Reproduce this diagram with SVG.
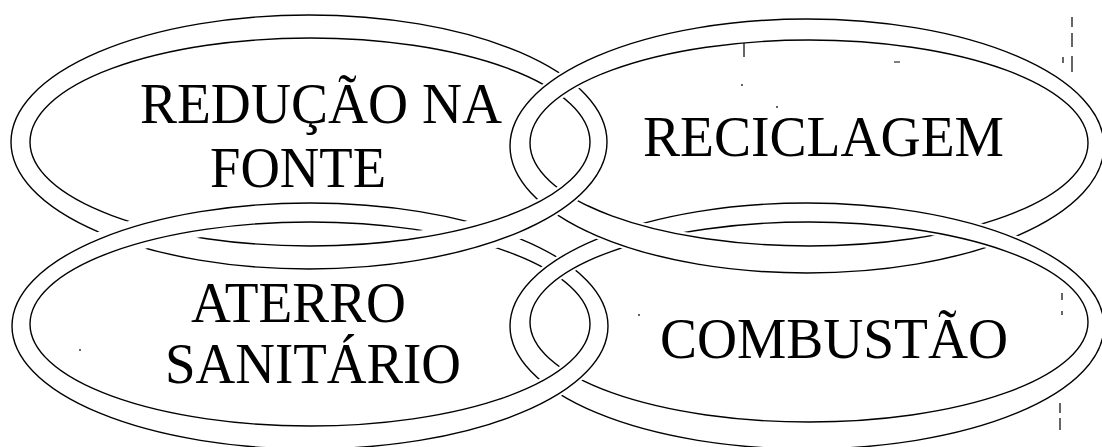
<svg xmlns="http://www.w3.org/2000/svg" width="1102" height="447" viewBox="0 0 1102 447">
<style>
 .halo{fill:none;stroke:#fff}
 .band{fill:#fff;stroke:none;fill-rule:evenodd}
 .ln{fill:none;stroke:#000;stroke-width:1.4}
 .lbl{font-family:"Liberation Serif","Times New Roman",serif;font-size:57px;fill:#000}
 .spk{stroke:#000;stroke-width:1.2;fill:none}
 .h6{stroke-width:6}
 .h14{stroke-width:14}
</style>
<defs>
 <g id="ring-tl">
  <ellipse class="halo" cx="309" cy="142" rx="298" ry="127"/>
  <ellipse class="halo" cx="310" cy="142" rx="280" ry="104"/>
  <path class="band" d="M11,142a298,127 0 1,0 596,0a298,127 0 1,0 -596,0ZM30,142a280,104 0 1,0 560,0a280,104 0 1,0 -560,0Z"/>
  <ellipse class="ln" cx="309" cy="142" rx="298" ry="127"/>
  <ellipse class="ln" cx="310" cy="142" rx="280" ry="104"/>
 </g>
 <g id="ring-tr">
  <ellipse class="halo" cx="807" cy="146" rx="297" ry="127"/>
  <ellipse class="halo" cx="809" cy="143" rx="279" ry="103"/>
  <path class="band" d="M510,146a297,127 0 1,0 594,0a297,127 0 1,0 -594,0ZM530,143a279,103 0 1,0 558,0a279,103 0 1,0 -558,0Z"/>
  <ellipse class="ln" cx="807" cy="146" rx="297" ry="127"/>
  <ellipse class="ln" cx="809" cy="143" rx="279" ry="103"/>
 </g>
 <g id="ring-bl">
  <ellipse class="halo" cx="310" cy="326" rx="298" ry="123"/>
  <ellipse class="halo" cx="310" cy="324" rx="280" ry="102"/>
  <path class="band" d="M12,326a298,123 0 1,0 596,0a298,123 0 1,0 -596,0ZM30,324a280,102 0 1,0 560,0a280,102 0 1,0 -560,0Z"/>
  <ellipse class="ln" cx="310" cy="326" rx="298" ry="123"/>
  <ellipse class="ln" cx="310" cy="324" rx="280" ry="102"/>
 </g>
 <g id="ring-br">
  <ellipse class="halo" cx="807" cy="326" rx="297" ry="123"/>
  <ellipse class="halo" cx="809" cy="322" rx="279" ry="100"/>
  <path class="band" d="M510,326a297,123 0 1,0 594,0a297,123 0 1,0 -594,0ZM530,322a279,100 0 1,0 558,0a279,100 0 1,0 -558,0Z"/>
  <ellipse class="ln" cx="807" cy="326" rx="297" ry="123"/>
  <ellipse class="ln" cx="809" cy="322" rx="279" ry="100"/>
 </g>
 <clipPath id="clipA1"><rect x="400" y="188" width="128" height="76"/></clipPath>
 <clipPath id="clipA2"><rect x="528" y="160" width="76" height="80"/></clipPath>
 <clipPath id="clipB"><rect x="500" y="350" width="120" height="97"/></clipPath>
 <clipPath id="clipC"><rect x="588" y="200" width="112" height="82"/></clipPath>
</defs>
<rect width="1102" height="447" fill="#fff"/>
<g id="node-reducao-na-fonte">
 <use href="#ring-tl" class="h6"/>
 <text class="lbl" x="140" y="123" textLength="362" lengthAdjust="spacingAndGlyphs">REDUÇÃO NA</text>
 <text class="lbl" x="210" y="187" textLength="176" lengthAdjust="spacingAndGlyphs">FONTE</text>
</g>
<g id="node-aterro-sanitario">
 <use href="#ring-bl" class="h14"/>
 <text class="lbl" x="191" y="322" textLength="215" lengthAdjust="spacingAndGlyphs">ATERRO</text>
 <text class="lbl" x="165" y="383" textLength="296" lengthAdjust="spacingAndGlyphs">SANITÁRIO</text>
</g>
<g id="node-reciclagem">
 <use href="#ring-tr" class="h6"/>
 <text class="lbl" x="643" y="156" textLength="361" lengthAdjust="spacingAndGlyphs">RECICLAGEM</text>
</g>
<g id="node-combustao">
 <use href="#ring-br" class="h6"/>
 <text class="lbl" x="660" y="358" textLength="348" lengthAdjust="spacingAndGlyphs">COMBUSTÃO</text>
</g>
<g id="interlocks">
 <g clip-path="url(#clipA1)"><use href="#ring-tl" class="h14"/></g>
 <g clip-path="url(#clipA2)"><use href="#ring-tl" class="h6"/></g>
 <g clip-path="url(#clipB)"><use href="#ring-bl" class="h6"/></g>
 <g clip-path="url(#clipC)"><use href="#ring-tr" class="h6"/></g>
</g>
<g id="scan-marks">
 <path class="spk" d="M1072,17v10M1072,33v14M1072,56v16M1063,57v6M1062,293v7M1062,311v4M1060,403v10M1060,418v12M744,43v14M742,84v2M777,106v2M894,62h6M80,349v2M639,314v2"/>
</g>
</svg>
